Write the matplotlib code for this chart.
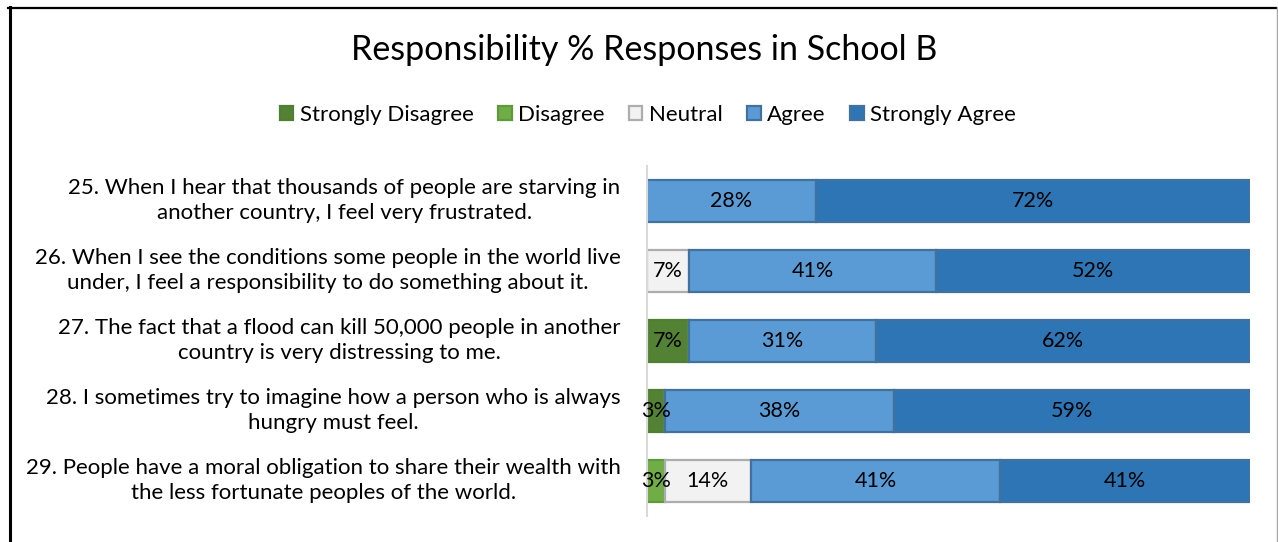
import numpy as np
import matplotlib
matplotlib.use("Agg")
import matplotlib.pyplot as plt
from matplotlib.lines import Line2D

plt.rcParams['font.family'] = ['Lato', 'DejaVu Sans']

# survey items, top to bottom
questions = [
    "25. When I hear that thousands of people are starving in\nanother country, I feel very frustrated.",
    "26. When I see the conditions some people in the world live\nunder, I feel a responsibility to do something about it.",
    "27. The fact that a flood can kill 50,000 people in another\ncountry is very distressing to me.",
    "28. I sometimes try to imagine how a person who is always\nhungry must feel.",
    "29. People have a moral obligation to share their wealth with\nthe less fortunate peoples of the world.",
]
responses = ["Strongly Disagree", "Disagree", "Neutral", "Agree", "Strongly Agree"]

strongly_disagree = [0, 0, 7, 3, 0]
disagree = [0, 0, 0, 0, 3]
neutral = [0, 7, 0, 0, 14]
agree = [28, 41, 31, 38, 41]
strongly_agree = [72, 52, 62, 59, 41]

fills = ["#548235", "#70AD47", "#F2F2F2", "#5B9BD5", "#2E75B6"]
edges = ["#507E32", "#5E9A3A", "#ADADAD", "#41719C", "#41719C"]

W, H = 1278, 542
fig = plt.figure(figsize=(W / 100, H / 100), dpi=100)
ax = fig.add_axes([647 / W, 1 - 516 / H, (1250 - 647) / W, 350 / H])

data = np.array([strongly_disagree, disagree, neutral, agree, strongly_agree], dtype=float)
totals = data.sum(axis=0)
shares = data / totals * 100  # 100% stacked

y = np.arange(len(questions))
left = np.zeros(len(questions))
for i, name in enumerate(responses):
    w = shares[i]
    ax.barh(y, w, left=left, height=0.6, color=fills[i], edgecolor=edges[i],
            linewidth=1.6, label=name)
    for j in range(len(questions)):
        if data[i, j] > 0:
            ax.text(left[j] + w[j] / 2, y[j], f"{data[i, j]:.0f}%",
                    ha="center", va="center", fontsize=15.5, color="#000000")
    left += w

ax.set_xlim(0, 100)
ax.set_ylim(len(questions) - 0.5, -0.5)
ax.set_yticks(y - 0.07)
ax.set_yticklabels(questions, fontsize=16, multialignment="center", linespacing=1.3)
ax.tick_params(axis="y", length=0, pad=19)
ax.set_xticks([])
for side in ["top", "right", "bottom"]:
    ax.spines[side].set_visible(False)
ax.spines["left"].set_color("#D9D9D9")
ax.spines["left"].set_linewidth(1.5)

fig.text(644 / W, 1 - 50 / H, "Responsibility % Responses in School B",
         ha="center", va="center", fontsize=24.5)

fig.legend(loc="center", bbox_to_anchor=(648 / W, 1 - 115 / H), ncol=5,
           frameon=False, fontsize=16, handlelength=0.6, handleheight=0.6,
           handletextpad=0.3, columnspacing=1.1)

# chart frame
fig.add_artist(Line2D([8 / W, 1276 / W], [1 - 7.5 / H, 1 - 7.5 / H], color="#000000", lw=1.6))
fig.add_artist(Line2D([9.5 / W, 9.5 / W], [0, 1 - 7 / H], color="#000000", lw=2.2))
fig.add_artist(Line2D([1276.5 / W, 1276.5 / W], [0, 1 - 7 / H], color="#A6A6A6", lw=1.0))

fig.savefig("out.png", dpi=100)
